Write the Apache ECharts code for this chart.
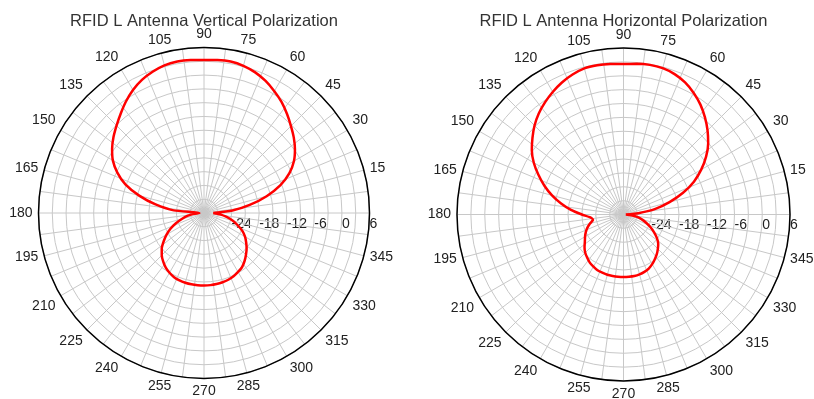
<!DOCTYPE html>
<html>
<head>
<meta charset="utf-8">
<script src="https://cdn.jsdelivr.net/npm/echarts@6/dist/echarts.min.js"></script>
<style>
html,body{margin:0;padding:0;background:#fff;}
#chart{width:814px;height:399px;}
</style>
</head>
<body>
<div id="chart"></div>
<script>
// Angles (degrees)
var angles = [0,5,10,15,20,25,30,35,40,45,50,55,60,65,70,75,80,85,90,95,100,105,110,115,120,125,130,135,140,145,150,155,160,165,170,175,180,185,190,195,200,205,210,215,220,225,230,235,240,245,250,255,260,265,270,275,280,285,290,295,300,305,310,315,320,325,330,335,340,345,350,355,360];
// Vertical polarization gain (dB)
var verticalGain = [-28,-23.8,-19.9,-15.9,-12.3,-9.5,-7.4,-5.85,-4.5,-3.25,-1.9,-0.55,0.6,1.7,2.55,3.15,3.45,3.4,3.3,3.4,3.45,3.25,2.7,1.95,0.9,-0.4,-1.8,-3.1,-4.3,-5.6,-7.1,-9.2,-11.8,-15.4,-19.3,-23.4,-29,-27.8,-26.3,-25.0,-23.5,-22.0,-20.6,-19.3,-18.0,-17.0,-16.2,-15.5,-15.0,-14.6,-14.4,-14.3,-14.25,-14.25,-14.25,-14.25,-14.3,-14.4,-14.55,-14.8,-15.2,-15.6,-16.3,-17.1,-17.9,-18.8,-19.7,-20.8,-22.2,-23.5,-25.0,-26.5,-28];
// Horizontal polarization gain (dB)
var horizontalGain = [-29.5,-26.8,-23.0,-19.7,-16.3,-13.2,-10.6,-8.2,-6.1,-4.3,-2.6,-1.0,0.35,1.5,2.3,2.75,2.85,2.7,2.55,2.65,2.75,2.7,2.2,1.5,0.6,-0.4,-1.5,-2.8,-4.3,-5.8,-7.6,-9.7,-11.8,-14.0,-16.3,-18.6,-21.0,-22.8,-23.3,-22.5,-21.7,-21.0,-20.4,-19.8,-19.0,-18.3,-17.8,-17.3,-17.0,-16.7,-16.6,-16.5,-16.5,-16.5,-16.5,-16.5,-16.5,-16.6,-16.8,-17.1,-17.6,-18.2,-18.8,-19.5,-20.2,-21.2,-22.4,-23.6,-24.8,-25.9,-27.0,-28.3,-29.5];
var titles = ['RFID L Antenna Vertical Polarization', 'RFID L Antenna Horizontal Polarization'];
var radiusTicks = {min: -30, max: 6, interval: 6};

var font = '"Liberation Sans", Arial, sans-serif';
var gridColor = '#c8c8c8';
function pairs(vals){ return vals.map(function(v,i){ return [v, angles[i]]; }); }

var polars = [{center:[204,213], radius:165.5},{center:[623.5,214.5], radius:166.5}];
var option = {
  backgroundColor:'#fff',
  animation:false,
  title: [0,1].map(function(i){ return {
    text: titles[i], left: polars[i].center[0] - 5, top: 8, textAlign:'center',
    textStyle:{fontFamily:font, fontSize:16.5, fontWeight:'normal', color:'#333'}
  };}),
  polar: polars,
  angleAxis: [0,1].map(function(i){ return {
    polarIndex:i, type:'value', min:0, max:360, interval:15, startAngle:0, clockwise:false,
    axisLine:{show:true, lineStyle:{color:'#000', width:1.5}},
    axisTick:{show:false},
    axisLabel:{show:true, margin:6, color:'#222', fontSize:14, fontFamily:font,
      formatter:function(v){ return (v===0||v===360)?'':String(v); }},
    splitLine:{show:true, lineStyle:{color:gridColor, width:1}},
    minorTick:{show:false, splitNumber:2},
    minorSplitLine:{show:true, lineStyle:{color:gridColor, width:1}},
    z: 3
  };}),
  radiusAxis: [0,1].map(function(i){ return {
    polarIndex:i, type:'value', min:radiusTicks.min, max:radiusTicks.max, interval:radiusTicks.interval,
    axisLine:{show:false}, axisTick:{show:false},
    axisLabel:{show:true, showMinLabel:false, margin:-4, color:'#222', fontSize:14, fontFamily:font, align:'left', verticalAlign:'top'},
    splitLine:{show:true, lineStyle:{color:gridColor, width:1}},
    minorTick:{show:false, splitNumber:2},
    minorSplitLine:{show:true, lineStyle:{color:gridColor, width:1}},
    z: 1
  };}),
  series: [verticalGain, horizontalGain].map(function(vals,i){ return {
    type:'line', coordinateSystem:'polar', polarIndex:i, data:pairs(vals),
    showSymbol:false, smooth:0.2, lineStyle:{color:'#ff0000', width:2.5}, z:10
  };})
};
var chart = echarts.init(document.getElementById('chart'), null, {renderer:'canvas'});
chart.setOption(option);
</script>
</body>
</html>
